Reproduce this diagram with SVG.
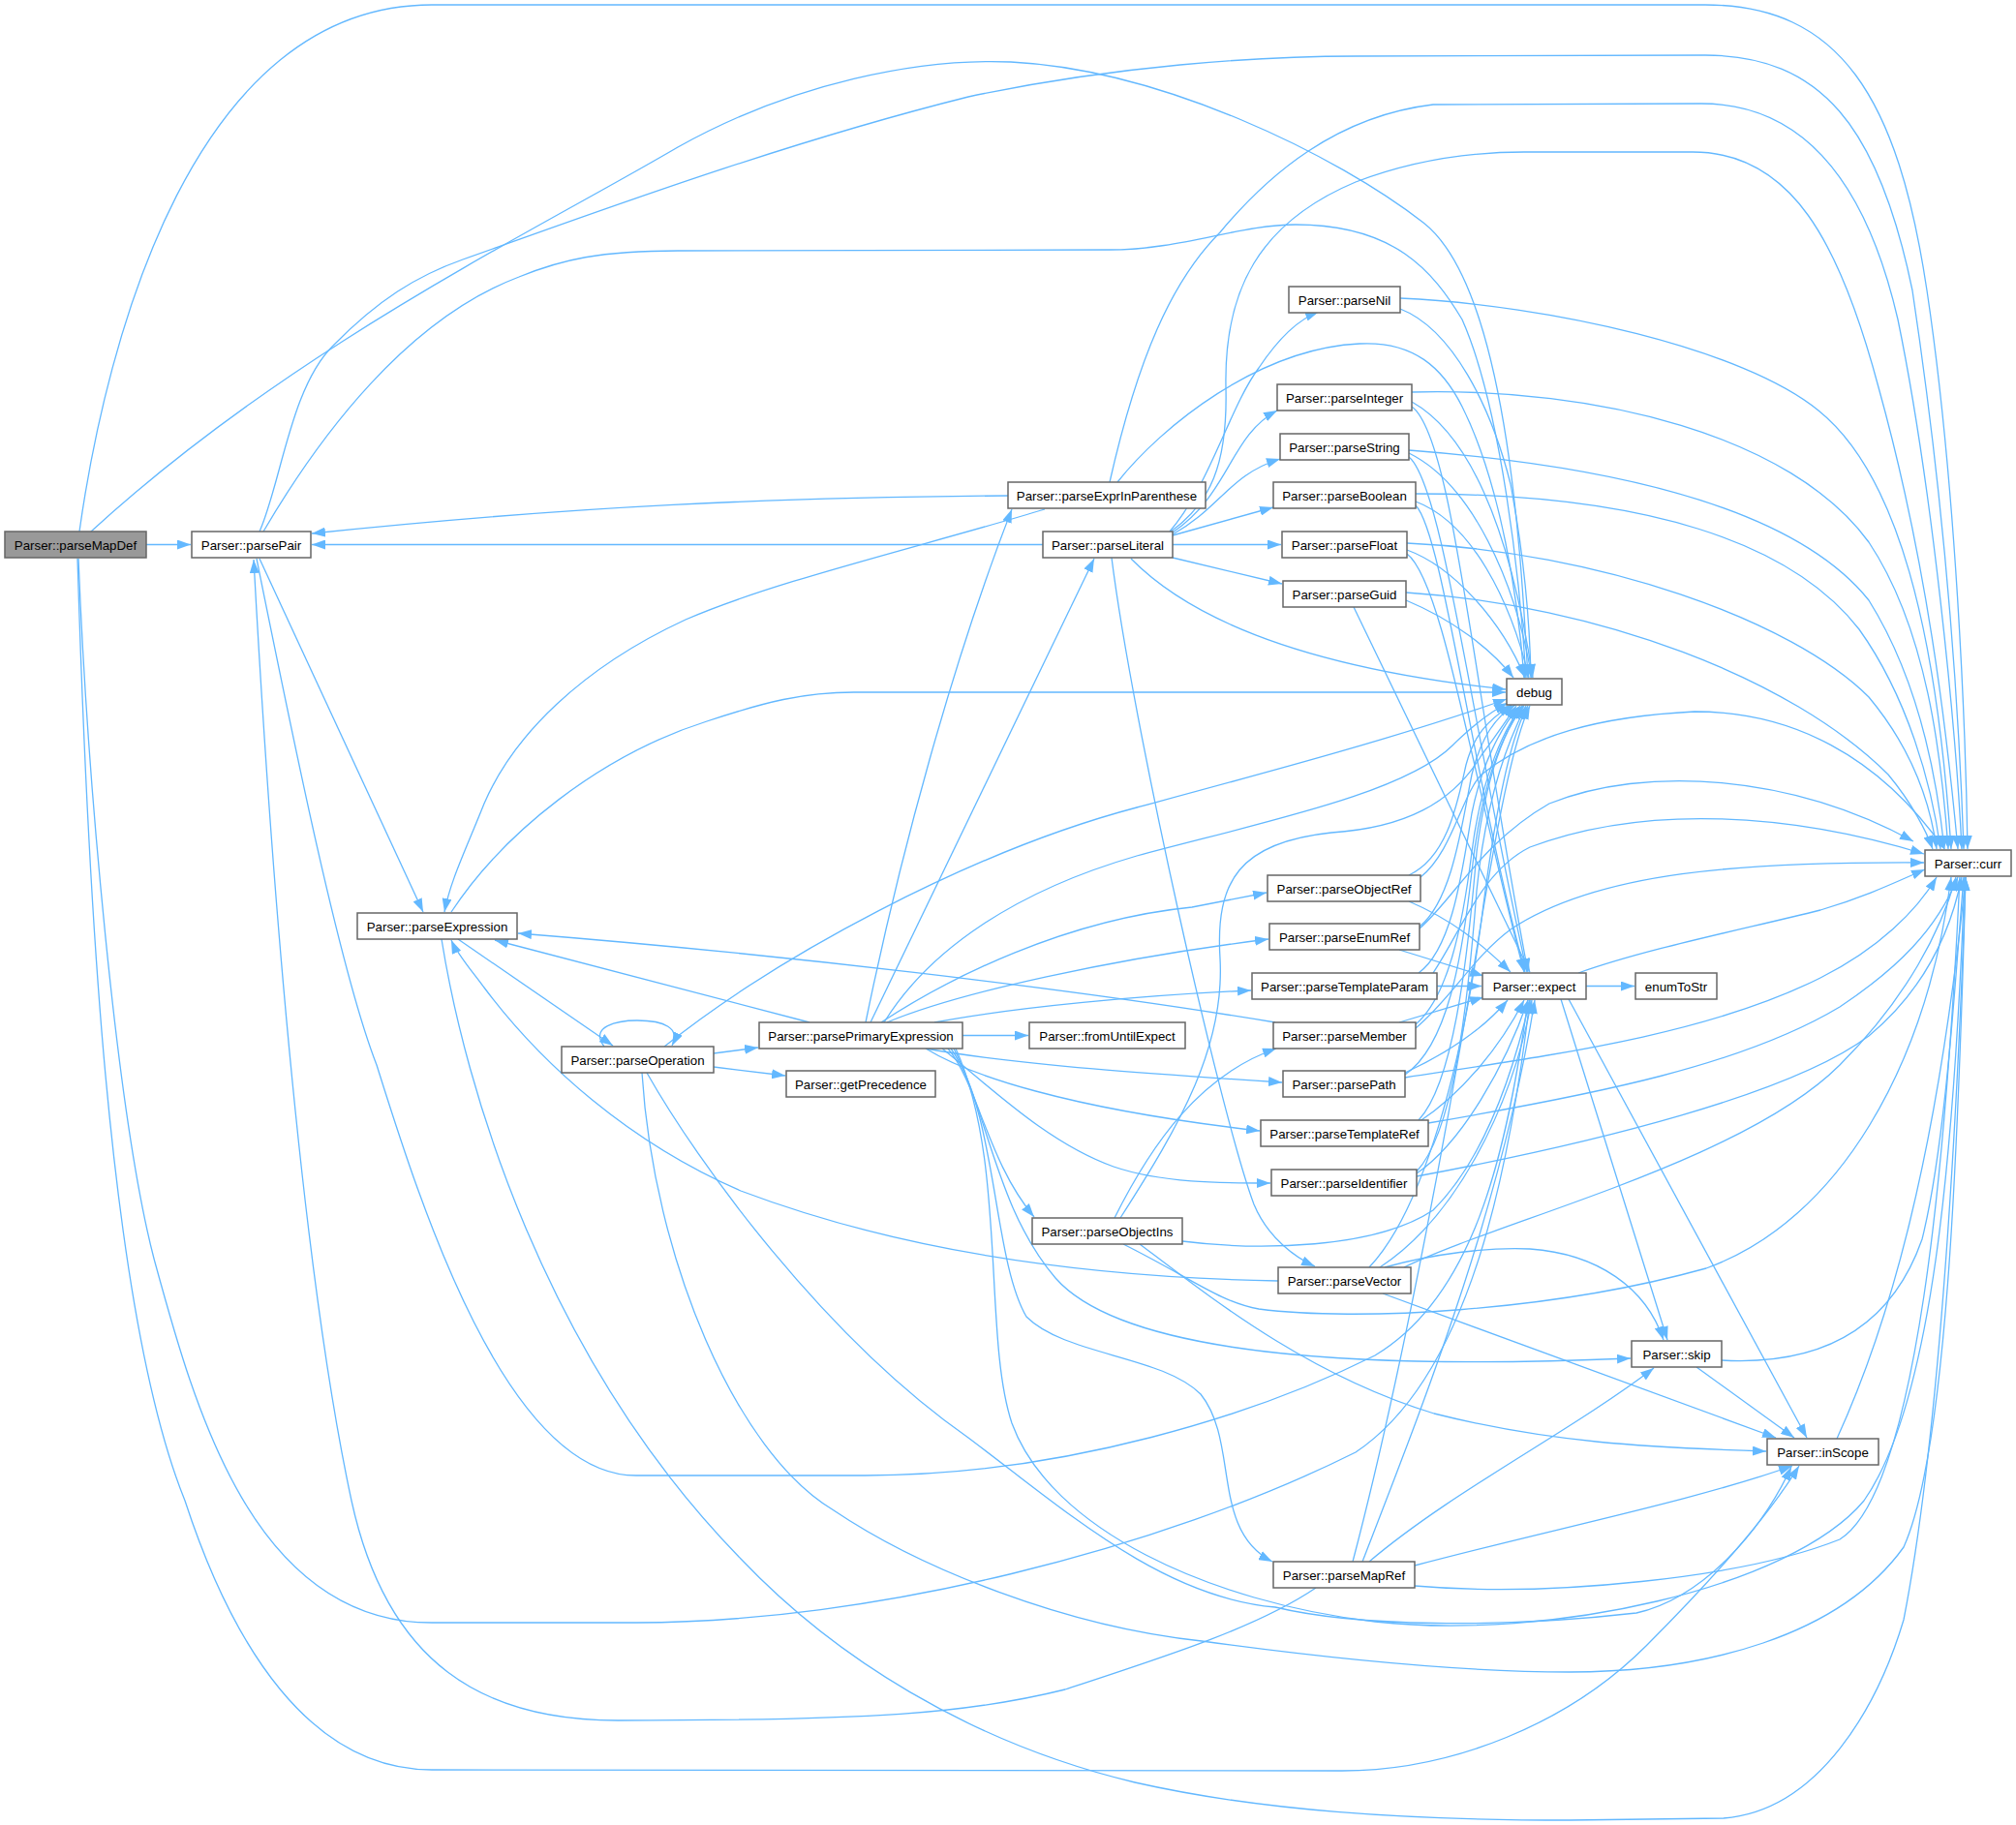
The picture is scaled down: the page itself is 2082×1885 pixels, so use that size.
<svg xmlns="http://www.w3.org/2000/svg" width="2082" height="1885" viewBox="0 0 2082 1885">
<defs>
<style>
.e{fill:none;stroke:#63b8ff;stroke-width:1.3;marker-end:url(#ah)}
.n rect{fill:#ffffff;stroke:#666666;stroke-width:1.5}
.n.hl rect{fill:#999999}
.n text{font-family:"Liberation Sans",Arial,sans-serif;font-size:13.3px;text-anchor:middle;fill:#000000}
</style>
<marker id="ah" viewBox="0 0 14 10" refX="14" refY="5" markerWidth="14" markerHeight="10" orient="auto" markerUnits="userSpaceOnUse"><path d="M0,0L14,5L0,10z" fill="#63b8ff"/></marker>
</defs>
<rect width="2082" height="1885" fill="#ffffff"/>
<g id="edges">
<path class="e" d="M151,562.5 L197,562.5"/>
<path class="e" d="M82,549 C110,350 200,5 446,5 L1761,5 C1900,5 1960,100 1990,300 C2020,500 2030,750 2032,877"/>
<path class="e" d="M94,549 C300,360 550,240 700,152 C820,85 950,60 1044,64 C1200,72 1380,160 1470,230 C1560,300 1572,600 1578,700"/>
<path class="e" d="M81,577 C90,800 120,1150 159,1300 C200,1450 260,1676 446,1676 L657,1676 C900,1676 1200,1600 1400,1500 C1520,1420 1560,1200 1580,1033"/>
<path class="e" d="M80,577 C90,900 110,1350 191,1550 C240,1700 320,1828 446,1828 L1386,1829 C1500,1829 1620,1780 1700,1700 C1780,1620 1830,1560 1858,1514"/>
<path class="e" d="M268,577 L437,942"/>
<path class="e" d="M268,549 C290,500 300,400 344,357 C390,310 430,285 478,268 C600,225 800,150 1000,100 C1150,68 1300,58 1400,58 L1761,57 C1880,57 1940,130 1975,300 C2005,500 2022,700 2028,877"/>
<path class="e" d="M272,549 C330,450 420,330 536,286 C580,268 620,259 700,259 L1146,258 C1220,258 1280,232 1338,232 C1440,232 1480,280 1510,330 C1550,420 1570,600 1576,700"/>
<path class="e" d="M265,577 C300,750 350,1000 389,1100 C430,1230 520,1524 657,1524 L893,1524 C1100,1524 1300,1460 1420,1400 C1520,1340 1555,1200 1578,1033"/>
<path class="e" d="M1359,1640 C1300,1680 1207,1710 1100,1745 C1000,1770 900,1777 638,1777 C500,1777 400,1720 363,1550 C320,1350 285,1000 262,578"/>
<path class="e" d="M473,970 L633,1080"/>
<path class="e" d="M466,942 C520,860 620,780 730,745 C790,725 830,715 882,715 L1555,715"/>
<path class="e" d="M456,970 C480,1120 560,1400 765,1610 C860,1710 1000,1800 1172,1841 C1300,1870 1450,1880 1621,1880 L1780,1878 C1880,1870 1940,1760 1966,1673 C2000,1500 2020,1200 2030,906"/>
<path class="e" d="M624,1081 C608,1060 638,1054 658,1054 C686,1054 703,1062 694,1080"/>
<path class="e" d="M737,1088 L783,1082"/>
<path class="e" d="M737,1102 L811,1111"/>
<path class="e" d="M686,1081 C800,990 1000,880 1174,834 C1300,800 1450,760 1556,722"/>
<path class="e" d="M663,1108 C675,1300 760,1500 861,1560 C950,1620 1100,1680 1241,1695 C1350,1710 1500,1727 1621,1727 C1760,1727 1900,1690 1966,1598 C2010,1500 2022,1200 2030,906"/>
<path class="e" d="M668,1108 C720,1200 850,1380 1000,1485 C1100,1560 1200,1650 1317,1660 C1400,1680 1550,1682 1690,1666 C1760,1650 1820,1580 1850,1515"/>
<path class="e" d="M836,1056 L511,971"/>
<path class="e" d="M994,1069.5 L1062,1069.5"/>
<path class="e" d="M894,1056 C930,880 985,680 1045,526"/>
<path class="e" d="M899,1056 L1130,577"/>
<path class="e" d="M913,1056 C960,980 1050,920 1174,884 C1300,850 1450,820 1500,770 C1520,750 1540,735 1557,726"/>
<path class="e" d="M910,1056 C980,1010 1100,950 1231,937 L1308,922"/>
<path class="e" d="M916,1056 C990,1025 1150,990 1310,970"/>
<path class="e" d="M965,1056 C1050,1040 1180,1028 1292,1023"/>
<path class="e" d="M956,1083 C1050,1100 1200,1110 1324,1118"/>
<path class="e" d="M956,1083 C1000,1110 1100,1145 1301,1168"/>
<path class="e" d="M973,1083 C1020,1120 1080,1180 1150,1205 C1200,1222 1260,1222 1312,1222"/>
<path class="e" d="M979,1083 C1010,1120 1020,1200 1068,1257"/>
<path class="e" d="M982,1083 C1030,1150 1025,1300 1060,1360 C1100,1400 1200,1400 1240,1440 C1280,1490 1250,1580 1314,1613"/>
<path class="e" d="M985,1083 C1020,1150 1030,1250 1090,1320 C1160,1400 1400,1415 1684,1403"/>
<path class="e" d="M987,1083 C1040,1200 1015,1380 1045,1470 C1085,1580 1250,1655 1420,1675 C1600,1695 1850,1640 1925,1550 C1995,1450 2018,1200 2029,906"/>
<path class="e" d="M1077,562.5 L322,562.5"/>
<path class="e" d="M1041,512 C800,514 600,522 322,551"/>
<path class="e" d="M1079,526 C950,565 800,600 708,640 C600,690 530,760 500,830 C480,880 465,910 459,942"/>
<path class="e" d="M1146,498 C1175,370 1210,290 1260,240 C1310,180 1380,120 1480,108 L1757,107 C1870,107 1930,200 1960,330 C1995,500 2020,750 2026,877"/>
<path class="e" d="M1154,498 C1200,440 1300,360 1404,355 C1460,352 1490,380 1510,420 C1550,500 1568,620 1574,700"/>
<path class="e" d="M1208,549 C1250,500 1270,420 1300,380 C1320,350 1340,330 1362,322"/>
<path class="e" d="M1211,550 C1270,510 1270,450 1319,424"/>
<path class="e" d="M1211,552 C1260,525 1270,490 1322,474"/>
<path class="e" d="M1211,553 L1315,524"/>
<path class="e" d="M1211,562.5 L1323,562.5"/>
<path class="e" d="M1211,576 L1324,603"/>
<path class="e" d="M1148,576 C1170,750 1260,1150 1295,1244 C1310,1280 1340,1300 1358,1308"/>
<path class="e" d="M1168,577 C1230,640 1350,690 1555,712"/>
<path class="e" d="M1208,550 C1250,520 1268,480 1266,400 C1264,300 1300,230 1400,188 C1460,165 1520,157 1574,157 L1748,157 C1850,157 1900,250 1940,400 C1990,580 2010,750 2022,877"/>
<path class="e" d="M1446,308 C1600,315 1800,360 1878,424 C1960,490 2000,650 2015,877"/>
<path class="e" d="M1446,319 C1500,340 1540,420 1560,500 C1575,580 1580,650 1581,700"/>
<path class="e" d="M1458,405 C1650,400 1850,450 1930,560 C1990,650 2005,780 2012,877"/>
<path class="e" d="M1458,415 C1520,450 1560,550 1583,700"/>
<path class="e" d="M1458,420 C1500,450 1520,700 1578,1004"/>
<path class="e" d="M1455,465 C1650,480 1850,520 1930,620 C1980,700 2000,800 2008,877"/>
<path class="e" d="M1455,468 C1520,500 1565,600 1582,700"/>
<path class="e" d="M1455,472 C1490,500 1520,750 1577,1004"/>
<path class="e" d="M1462,510 C1700,510 1850,560 1920,650 C1970,720 1995,810 2004,877"/>
<path class="e" d="M1462,518 C1520,540 1560,620 1579,700"/>
<path class="e" d="M1462,522 C1490,550 1520,800 1575,1004"/>
<path class="e" d="M1453,561 C1650,570 1850,640 1930,720 C1980,780 1995,840 2000,877"/>
<path class="e" d="M1453,568 C1500,585 1550,640 1575,700"/>
<path class="e" d="M1453,572 C1490,600 1520,800 1574,1004"/>
<path class="e" d="M1452,612 C1650,625 1850,700 1950,800 C1975,830 1990,860 1996,877"/>
<path class="e" d="M1452,620 C1500,640 1540,670 1563,700"/>
<path class="e" d="M1398,627 L1580,1004"/>
<path class="e" d="M1455,904 C1495,885 1505,830 1514,790 C1522,760 1535,745 1561,728"/>
<path class="e" d="M1455,931 C1500,950 1530,975 1560,1004"/>
<path class="e" d="M1467,906 C1500,880 1510,820 1530,800 C1580,760 1650,740 1750,735 C1850,735 1940,780 2008,877"/>
<path class="e" d="M1466,957 C1500,930 1510,850 1520,800 C1530,760 1545,740 1565,728"/>
<path class="e" d="M1445,981 L1532,1008"/>
<path class="e" d="M1466,959 C1500,930 1530,870 1600,830 C1700,790 1850,800 1976,869"/>
<path class="e" d="M1465,1005 C1500,980 1510,900 1520,840 C1530,790 1550,750 1570,729"/>
<path class="e" d="M1484,1018.5 L1530,1018.5"/>
<path class="e" d="M1480,1005 C1510,960 1530,900 1580,875 C1700,830 1850,840 1987,882"/>
<path class="e" d="M1317,1056 C1100,1020 800,985 535,964"/>
<path class="e" d="M1462,1058 C1495,1030 1510,960 1520,880 C1530,800 1555,750 1572,729"/>
<path class="e" d="M1445,1056 L1532,1030"/>
<path class="e" d="M1462,1062 C1500,1030 1520,990 1560,960 C1650,900 1800,890 1987,891"/>
<path class="e" d="M1451,1110 C1495,1080 1510,990 1520,900 C1530,810 1550,760 1573,729"/>
<path class="e" d="M1451,1108 C1490,1090 1530,1065 1557,1033"/>
<path class="e" d="M1451,1113 C1600,1090 1760,1070 1880,1010 C1940,980 1980,940 2000,906"/>
<path class="e" d="M1465,1157 C1500,1120 1515,1000 1525,880 C1535,800 1555,750 1574,729"/>
<path class="e" d="M1465,1159 C1510,1130 1550,1080 1574,1033"/>
<path class="e" d="M1475,1160 C1650,1130 1800,1100 1900,1040 C1960,1000 2000,960 2022,906"/>
<path class="e" d="M1463,1210 C1500,1170 1515,1050 1525,920 C1535,820 1560,760 1576,729"/>
<path class="e" d="M1463,1212 C1510,1180 1555,1100 1578,1033"/>
<path class="e" d="M1463,1215 C1650,1180 1850,1130 1930,1070 C1990,1020 2015,960 2026,906"/>
<path class="e" d="M1151,1258 C1190,1180 1240,1110 1318,1083"/>
<path class="e" d="M1157,1258 C1220,1160 1265,1080 1260,990 C1255,910 1280,870 1375,860 C1450,855 1500,830 1530,780 C1545,760 1555,745 1566,729"/>
<path class="e" d="M1221,1282 C1300,1292 1420,1290 1480,1250 C1530,1200 1560,1120 1580,1033"/>
<path class="e" d="M1160,1285 C1230,1320 1260,1345 1300,1352 C1400,1365 1600,1355 1762,1310 C1900,1260 1990,1100 2015,906"/>
<path class="e" d="M1177,1285 C1250,1340 1350,1420 1481,1460 C1600,1490 1700,1495 1824,1499"/>
<path class="e" d="M1320,1323 C1150,1320 950,1300 765,1230 C650,1180 560,1100 500,1020 C485,1000 472,985 466,971"/>
<path class="e" d="M1430,1309 C1480,1295 1537,1288 1580,1290 C1650,1295 1700,1330 1718,1384"/>
<path class="e" d="M1428,1336 L1834,1485"/>
<path class="e" d="M1414,1309 C1470,1250 1510,1100 1530,950 C1545,830 1560,760 1578,729"/>
<path class="e" d="M1425,1309 C1500,1260 1560,1150 1582,1033"/>
<path class="e" d="M1450,1309 C1550,1260 1800,1200 1900,1100 C1970,1030 2005,960 2020,906"/>
<path class="e" d="M1397,1613 C1440,1450 1490,1200 1530,950 C1550,830 1565,760 1580,729"/>
<path class="e" d="M1407,1613 C1470,1450 1550,1250 1585,1033"/>
<path class="e" d="M1414,1613 C1500,1540 1620,1480 1708,1413"/>
<path class="e" d="M1461,1617 C1600,1580 1750,1550 1851,1514"/>
<path class="e" d="M1461,1638 C1600,1650 1800,1630 1900,1590 C1980,1540 2010,1200 2024,906"/>
<path class="e" d="M1638,1018.5 L1688,1018.5"/>
<path class="e" d="M1630,1005 C1700,980 1800,960 1880,940 C1930,925 1960,910 1988,898"/>
<path class="e" d="M1612,1032 L1722,1384"/>
<path class="e" d="M1620,1032 L1866,1485"/>
<path class="e" d="M1778,1405 C1870,1410 1950,1380 1985,1280 C2010,1180 2020,1000 2028,906"/>
<path class="e" d="M1752,1412 L1853,1485"/>
<path class="e" d="M1897,1486 C1950,1370 2000,1200 2030,906"/>
</g>
<g id="nodes">
<g id="n_parseMapDef" class="n hl"><rect x="5" y="549" width="146" height="27"/><text x="78" y="567.5">Parser::parseMapDef</text></g>
<g id="n_parsePair" class="n"><rect x="198" y="549" width="123" height="27"/><text x="259.5" y="567.5">Parser::parsePair</text></g>
<g id="n_parseExpression" class="n"><rect x="369" y="943" width="165" height="27"/><text x="451.5" y="961.5">Parser::parseExpression</text></g>
<g id="n_parseOperation" class="n"><rect x="580" y="1081" width="157" height="27"/><text x="658.5" y="1099.5">Parser::parseOperation</text></g>
<g id="n_parsePrimaryExpression" class="n"><rect x="784" y="1056" width="210" height="27"/><text x="889" y="1074.5">Parser::parsePrimaryExpression</text></g>
<g id="n_getPrecedence" class="n"><rect x="812" y="1106" width="154" height="27"/><text x="889" y="1124.5">Parser::getPrecedence</text></g>
<g id="n_fromUntilExpect" class="n"><rect x="1063" y="1056" width="161" height="27"/><text x="1143.5" y="1074.5">Parser::fromUntilExpect</text></g>
<g id="n_parseExprInParenthese" class="n"><rect x="1041" y="498" width="204" height="27"/><text x="1143" y="516.5">Parser::parseExprInParenthese</text></g>
<g id="n_parseLiteral" class="n"><rect x="1077" y="549" width="134" height="27"/><text x="1144" y="567.5">Parser::parseLiteral</text></g>
<g id="n_parseNil" class="n"><rect x="1331" y="296" width="115" height="27"/><text x="1388.5" y="314.5">Parser::parseNil</text></g>
<g id="n_parseInteger" class="n"><rect x="1319" y="397" width="139" height="27"/><text x="1388.5" y="415.5">Parser::parseInteger</text></g>
<g id="n_parseString" class="n"><rect x="1322" y="448" width="133" height="27"/><text x="1388.5" y="466.5">Parser::parseString</text></g>
<g id="n_parseBoolean" class="n"><rect x="1315" y="498" width="147" height="27"/><text x="1388.5" y="516.5">Parser::parseBoolean</text></g>
<g id="n_parseFloat" class="n"><rect x="1324" y="549" width="129" height="27"/><text x="1388.5" y="567.5">Parser::parseFloat</text></g>
<g id="n_parseGuid" class="n"><rect x="1325" y="600" width="127" height="27"/><text x="1388.5" y="618.5">Parser::parseGuid</text></g>
<g id="n_parseObjectRef" class="n"><rect x="1309" y="904" width="158" height="27"/><text x="1388" y="922.5">Parser::parseObjectRef</text></g>
<g id="n_parseEnumRef" class="n"><rect x="1311" y="954" width="155" height="27"/><text x="1388.5" y="972.5">Parser::parseEnumRef</text></g>
<g id="n_parseTemplateParam" class="n"><rect x="1293" y="1005" width="191" height="27"/><text x="1388.5" y="1023.5">Parser::parseTemplateParam</text></g>
<g id="n_parseMember" class="n"><rect x="1315" y="1056" width="147" height="27"/><text x="1388.5" y="1074.5">Parser::parseMember</text></g>
<g id="n_parsePath" class="n"><rect x="1325" y="1106" width="126" height="27"/><text x="1388" y="1124.5">Parser::parsePath</text></g>
<g id="n_parseTemplateRef" class="n"><rect x="1302" y="1157" width="173" height="27"/><text x="1388.5" y="1175.5">Parser::parseTemplateRef</text></g>
<g id="n_parseIdentifier" class="n"><rect x="1313" y="1208" width="150" height="27"/><text x="1388" y="1226.5">Parser::parseIdentifier</text></g>
<g id="n_parseObjectIns" class="n"><rect x="1066" y="1258" width="155" height="27"/><text x="1143.5" y="1276.5">Parser::parseObjectIns</text></g>
<g id="n_parseVector" class="n"><rect x="1320" y="1309" width="137" height="27"/><text x="1388.5" y="1327.5">Parser::parseVector</text></g>
<g id="n_parseMapRef" class="n"><rect x="1315" y="1613" width="146" height="27"/><text x="1388" y="1631.5">Parser::parseMapRef</text></g>
<g id="n_debug" class="n"><rect x="1556" y="701" width="57" height="27"/><text x="1584.5" y="719.5">debug</text></g>
<g id="n_expect" class="n"><rect x="1531" y="1005" width="107" height="27"/><text x="1584.5" y="1023.5">Parser::expect</text></g>
<g id="n_enumToStr" class="n"><rect x="1689" y="1005" width="84" height="27"/><text x="1731" y="1023.5">enumToStr</text></g>
<g id="n_curr" class="n"><rect x="1988" y="878" width="89" height="27"/><text x="2032.5" y="896.5">Parser::curr</text></g>
<g id="n_skip" class="n"><rect x="1685" y="1385" width="93" height="27"/><text x="1731.5" y="1403.5">Parser::skip</text></g>
<g id="n_inScope" class="n"><rect x="1825" y="1486" width="115" height="27"/><text x="1882.5" y="1504.5">Parser::inScope</text></g>
</g>
</svg>
